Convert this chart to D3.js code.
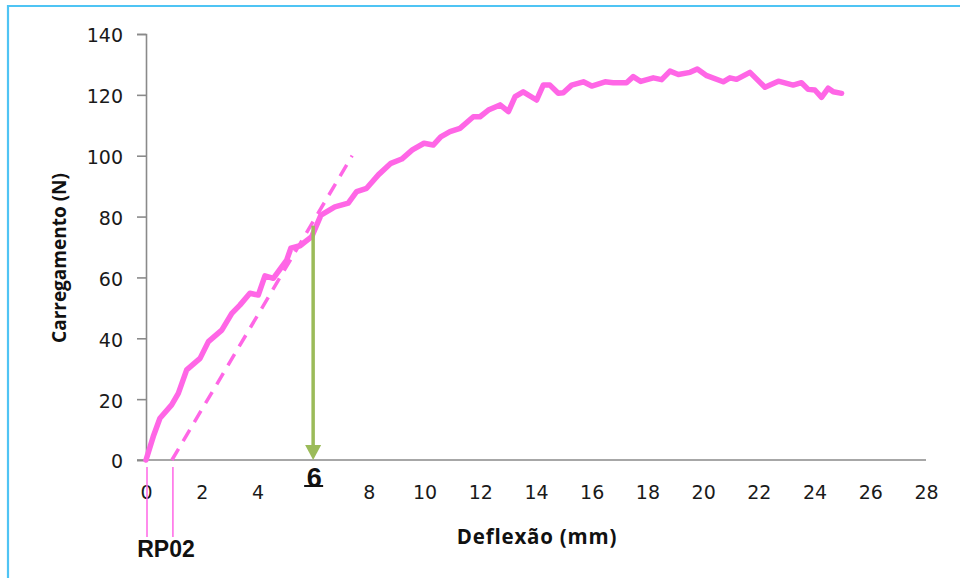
<!DOCTYPE html>
<html>
<head>
<meta charset="utf-8">
<script src="https://cdn.jsdelivr.net/npm/d3@7"></script>
<style>
  html, body { margin: 0; padding: 0; background: #fff; }
  svg { display: block; }
</style>
</head>
<body>
<svg id="chart" width="960" height="578"></svg>
<script>
// Load–deflection curve of the flexure test
const deflection = [0, 0.26, 0.5, 0.92, 1.16, 1.46, 1.94, 2.24, 2.72, 3.08, 3.37, 3.73, 4.03, 4.27, 4.57,
  5.05, 5.2, 5.53, 5.95, 6.28, 6.78, 7.26, 7.56, 7.92, 8.34, 8.79, 9.18, 9.56, 9.98, 10.31, 10.58,
  10.91, 11.27, 11.75, 11.99, 12.29, 12.71, 13.01, 13.25, 13.54, 14.02, 14.26, 14.5, 14.8, 14.98,
  15.28, 15.7, 16.0, 16.48, 16.77, 17.25, 17.49, 17.76, 18.21, 18.51, 18.81, 19.11, 19.53, 19.79,
  20.13, 20.72, 20.96, 21.2, 21.68, 22.22, 22.7, 23.23, 23.53, 23.77, 24.01, 24.25, 24.49, 24.67, 24.97];
const load = [0, 7.7, 13.7, 18.1, 21.9, 29.6, 33.4, 38.9, 42.7, 48.2, 50.9, 54.8, 54.2, 60.5, 59.7,
  65.7, 69.6, 70.4, 73.4, 80.5, 83.2, 84.4, 88.2, 89.3, 93.7, 97.5, 98.9, 101.9, 104.1, 103.5, 106.2,
  107.9, 109.0, 112.8, 112.8, 115.0, 116.7, 114.5, 119.4, 121.0, 118.3, 123.2, 123.2, 120.5, 120.7,
  123.2, 124.3, 122.9, 124.3, 124.0, 124.0, 126.0, 124.4, 125.6, 125.0, 127.8, 126.7, 127.4, 128.5,
  126.3, 124.3, 125.6, 125.1, 127.4, 122.5, 124.5, 123.2, 124.0, 121.8, 121.6, 119.2, 122.2, 121.0, 120.5];

// Offset (0.2%) elastic line: from its x-intercept up to its end point
const offsetLineX = [0.93, 7.4];
const offsetLineY = [0, 100];

// Marker at the deflection
const markX = 6;
const markLoad = 77;

const xTicks = d3.range(0, 29, 2);
const yTicks = d3.range(0, 141, 20);

const svg = d3.select("#chart");

// frame
svg.append("path")
  .attr("d", "M8,600 L8,6 L980,6")
  .attr("fill", "none")
  .attr("stroke", "#4fc4f4")
  .attr("stroke-width", 2.2);

const x = d3.scaleLinear().domain([0, 28]).range([146, 926]);
const y = d3.scaleLinear().domain([0, 140]).range([460, 34]);

const axisColor = "#8a8a8a";
const tickFont = "'DejaVu Sans', Verdana, sans-serif";

// y axis
const yAxis = svg.append("g")
  .attr("transform", `translate(${x(0)},0)`)
  .call(d3.axisLeft(y).tickValues(yTicks).tickSize(9).tickSizeOuter(9).tickPadding(14));
yAxis.select(".domain").attr("stroke", axisColor).attr("stroke-width", 1.6);
yAxis.selectAll(".tick line").attr("stroke", axisColor).attr("stroke-width", 1.6);
yAxis.selectAll(".tick text")
  .attr("fill", "#1a1a1a")
  .attr("font-family", tickFont)
  .attr("font-size", 19)
  .attr("dy", "0.42em");

// x axis (no tick marks); the label at the marked deflection is replaced by the bold value below
const xAxis = svg.append("g")
  .attr("transform", `translate(0,${y(0)})`)
  .call(d3.axisBottom(x).tickValues(xTicks)
    .tickFormat(d => d === markX ? "" : d)
    .tickSize(0).tickSizeOuter(0).tickPadding(26));
xAxis.select(".domain").attr("stroke", axisColor).attr("stroke-width", 1.6)
  .attr("d", `M${x(0) - 9},0H${x(28)}`);
xAxis.selectAll(".tick text")
  .attr("fill", "#1a1a1a")
  .attr("font-family", tickFont)
  .attr("font-size", 19);

const pink = "#ff66e6";

// offset line (dashed)
svg.append("line")
  .attr("x1", x(offsetLineX[0])).attr("y1", y(offsetLineY[0]))
  .attr("x2", x(offsetLineX[1])).attr("y2", y(offsetLineY[1]))
  .attr("stroke", pink)
  .attr("stroke-width", 3.5)
  .attr("stroke-dasharray", "13,9");

// load–deflection curve
const line = d3.line().x(i => x(deflection[i])).y(i => y(load[i]));
svg.append("path")
  .attr("d", line(d3.range(deflection.length)))
  .attr("fill", "none")
  .attr("stroke", pink)
  .attr("stroke-width", 5.5)
  .attr("stroke-linejoin", "round")
  .attr("stroke-linecap", "round");

// green arrow down to the axis
const green = "#9bbb59";
svg.append("line")
  .attr("x1", x(markX)).attr("y1", y(markLoad))
  .attr("x2", x(markX)).attr("y2", y(0) - 12)
  .attr("stroke", green)
  .attr("stroke-width", 3.5);
svg.append("path")
  .attr("d", `M${x(markX) - 8},${y(0) - 15} L${x(markX) + 8},${y(0) - 15} L${x(markX)},${y(0)} Z`)
  .attr("fill", green);

// bold value label at the marked deflection
svg.append("text")
  .attr("x", x(markX) + 1).attr("y", 487)
  .attr("text-anchor", "middle")
  .attr("font-family", "'Liberation Sans', Arial, sans-serif")
  .attr("font-weight", "bold")
  .attr("font-size", 27)
  .attr("fill", "#111")
  .text(markX);
svg.append("line")
  .attr("x1", x(markX) - 9).attr("x2", x(markX) + 10)
  .attr("y1", 486).attr("y2", 486)
  .attr("stroke", "#111")
  .attr("stroke-width", 2);

// RP02 guide lines
[0, offsetLineX[0]].forEach(v => {
  svg.append("line")
    .attr("x1", x(v) + 1).attr("x2", x(v) + 1)
    .attr("y1", 467).attr("y2", 537)
    .attr("stroke", pink)
    .attr("stroke-width", 1.5);
});
svg.append("text")
  .attr("x", 166).attr("y", 557)
  .attr("text-anchor", "middle")
  .attr("font-family", "'Liberation Sans', Arial, sans-serif")
  .attr("font-weight", "bold")
  .attr("font-size", 23)
  .attr("fill", "#111")
  .text("RP02");

// axis titles
svg.append("text")
  .attr("x", 537).attr("y", 544)
  .attr("text-anchor", "middle")
  .attr("font-family", "'Open Sans', sans-serif")
  .attr("font-weight", "bold")
  .attr("font-size", 20.5)
  .attr("letter-spacing", 0.8)
  .attr("fill", "#111")
  .text("Deflexão (mm)");

svg.append("text")
  .attr("transform", `translate(66,258) rotate(-90)`)
  .attr("text-anchor", "middle")
  .attr("font-family", "'Open Sans', sans-serif")
  .attr("font-weight", "bold")
  .attr("font-size", 19)
  .attr("fill", "#111")
  .text("Carregamento (N)");
</script>
</body>
</html>
